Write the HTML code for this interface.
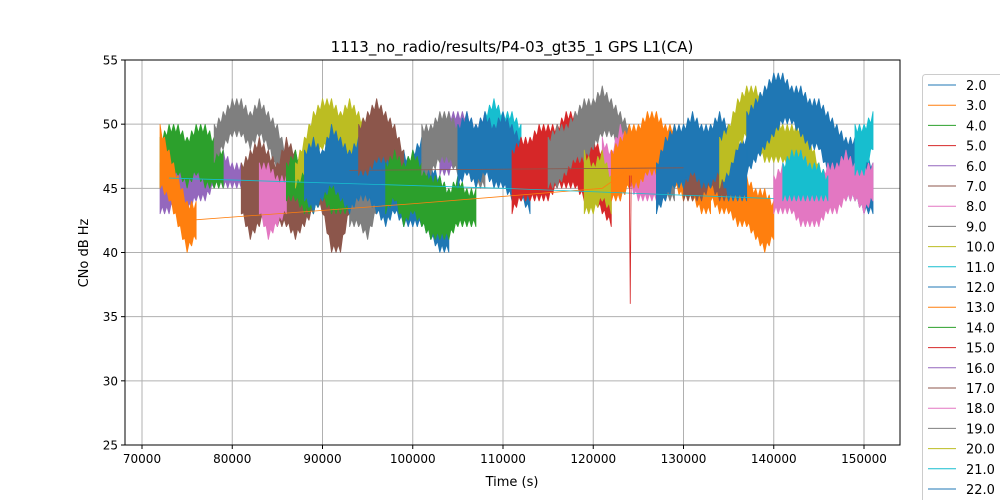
<!DOCTYPE html>
<html><head><meta charset="utf-8"><style>
html,body{margin:0;background:#fff;overflow:hidden;width:1000px;height:500px;}
svg{display:block;overflow:hidden;font-family:"DejaVu Sans","Liberation Sans",sans-serif;}
</style></head><body>
<svg id="c" width="1000" height="500" xmlns="http://www.w3.org/2000/svg"></svg>
<script>
// ---- data (time in thousands of seconds, CNo in dB Hz) ----
const xTicks=[70000,80000,90000,100000,110000,120000,130000,140000,150000];
const yTicks=[25,30,35,40,45,50,55];
const legendLabels=["2.0","3.0","4.0","5.0","6.0","7.0","8.0","9.0","10.0","11.0","12.0","13.0","14.0","15.0","16.0","17.0","18.0","19.0","20.0","21.0","22.0"];
const colors=["#1f77b4","#ff7f0e","#2ca02c","#d62728","#9467bd","#8c564b","#e377c2","#7f7f7f","#bcbd22","#17becf"];
// band segments: color index, start time, hi values, lo values (1 sample per 1000 s)
const segColor=[4,2,1,7,5,6,5,2,8,7,0,5,0,2,4,7,9,0,3,7,6,8,1,1,5,0,8,0,6,9,9];
const segStart=[72,72,72,78,81,83,89,86,87,93,88,94,100,97,103,101,108,105,111,115,121,119,122,133,130,127,134,137,140,141,149];
const segHi=[
[47,48,49,48,47,48,47,48,47,47,47,46],
[49,50,50,49,50,50,49,48],
[50,48,46,44,44],
[50,51,52,52,51,52,51,50,48,47],
[47,48,49,48,47,49,48,47,46],
[47,47,46,46],
[48,47,46,46,46],
[47,48,47,48,48,47,47,46],
[47,49,51,52,52,51,52,51,50,50,49,48,47,46,45],
[46,47,45,47,46],
[48,49,48,50,49,48,49,48,49,48,49,48,47],
[50,51,52,51,50,48],
[48,49,47,46,45],
[47,48,47,48,47,46,46,45,46,45,45],
[50,51,51,51,50,51,50,49],
[50,50,51,51,50,50,49,49],
[51,52,51,51,50],
[50,51,50,51,50,51,50,49,48],
[48,49,49,50,50,50,51,51,50,49,48,47],
[49,50,50,51,52,52,53,52,51,50,49,48,47,47,47],
[49,48,50,49,48,49,49,48],
[48,47,48,46],
[48,49,50,50,51,51,50,50,49,48,48,47],
[48,47,48,47,46,45,45,44],
[47,48,47,48,47,46],
[47,49,50,50,51,50,50,51,50,49,49],
[49,50,52,53,53,52,51,50,50,50,49,47,46],
[51,52,53,54,54,53,53,52,52,51,50,49,49,48,47],
[46,47,47,48,47,46,47,47,48,47,47,47],
[47,48,48,47,47,46],
[50,50,51]];
const segLo=[
[43,43,44,43,44,44,45,45,45,45,45,45],
[45,45,46,45,46,45,45,45],
[45,44,42,40,41],
[47,48,49,49,48,49,48,46,44,42],
[43,41,42,43,42,42,41,42,43],
[43,41,42,43],
[44,43,40,40,43],
[44,44,43,43,44,43,43,43],
[45,46,47,48,48,48,47,47,46,45,45,44,43,43,43],
[42,42,41,43,43],
[44,43,44,45,44,43,44,44,43,42,43,42,42],
[46,46,47,47,46,44],
[42,42,41,40,40],
[43,44,42,43,42,41,41,41,42,42,42],
[46,46,47,47,46,47,46,45],
[46,46,47,47,46,46,45,45],
[46,47,46,45,45],
[45,46,45,46,45,45,44,44,43],
[43,44,44,44,44,45,45,45,44,44,43,42],
[45,45,46,47,47,48,49,49,48,47,46,45,45,44,44],
[44,44,44,45,44,44,44,44],
[43,43,44,43],
[44,44,45,45,46,46,45,45,44,44,43,43],
[44,43,43,42,42,41,40,41],
[44,44,44,45,44,44],
[43,44,45,45,46,45,45,46,44,44,44],
[45,46,48,49,48,47,47,47,46,46,45,44,43],
[46,47,48,49,50,50,49,48,48,46,45,44,44,43,43],
[43,43,43,42,42,42,43,43,44,44,43,44],
[44,44,44,44,44,44],
[46,46,48]];
// thin connecting lines
const lineColor=[1,9,5,3];
const lineT=[[75,100,121,124],[73,110,140],[93,130],[124,124.1,124.2]];
const lineV=[[42.5,43.8,45,46.5],[45.8,45.0,44.2],[46.4,46.6],[46,36,46]];

// ---- axes ----
const L=125,R=900,T=60,B=445;
const X=t=>142+(t-70000)*722/80000;
const Y=v=>T+(55-v)*(B-T)/30;
const svg=document.getElementById('c');
const NS="http://www.w3.org/2000/svg";
function mk(tag,attrs,parent){const e=document.createElementNS(NS,tag);for(const k in attrs)e.setAttribute(k,attrs[k]);(parent||svg).appendChild(e);return e;}
mk('rect',{x:0,y:0,width:1000,height:500,fill:'#fff'});
const grid=mk('g',{});


xTicks.forEach(t=>{mk('line',{x1:X(t),x2:X(t),y1:T,y2:B,stroke:'#b0b0b0','stroke-width':1},grid);});
yTicks.forEach(v=>{mk('line',{x1:L,x2:R,y1:Y(v),y2:Y(v),stroke:'#b0b0b0','stroke-width':1},grid);});
const plot=mk('g',{});


segColor.forEach((ci,i)=>{
  const hi=segHi[i],lo=segLo[i],s=segStart[i];
  let top=[],bot=[];
  hi.forEach((v,j)=>{
    const t=(s+j)*1000, nv=j+1<hi.length?hi[j+1]:v, nl=j+1<lo.length?lo[j+1]:lo[j];
    const last=j===hi.length-1;
    const steps=last?1:4;
    for(let k=0;k<steps;k++){
      const f=k/4, tt=t+k*250;
      const hv=v+(nv-v)*f-(k%2?0.7:0);
      const lv=lo[j]+(nl-lo[j])*f+(k%2?0.6:0);
      top.push(X(tt)+','+Y(hv));
      bot.push(X(tt)+','+Y(lv));
    }
  });
  const pts=top.concat(bot.reverse());
  const p=mk('polygon',{points:pts.join(' '),fill:colors[ci],stroke:colors[ci],'stroke-width':0.8,'stroke-linejoin':'bevel'},plot);
  
  
});
lineColor.forEach((ci,i)=>{
  const pts=lineT[i].map((t,j)=>X(t*1000)+','+Y(lineV[i][j])).join(' ');
  const p=mk('polyline',{points:pts,fill:'none',stroke:colors[ci],'stroke-width':0.8},plot);
  
  
});
const frame=mk('rect',{x:L,y:T,width:R-L,height:B-T,fill:'none',stroke:'#000','stroke-width':1});


xTicks.forEach(t=>{
  mk('line',{x1:X(t),x2:X(t),y1:B,y2:B+4,stroke:'#000'});
  const e=mk('text',{x:X(t),y:B+18,'text-anchor':'middle','font-size':12});
  e.textContent=t;
  
  
});
yTicks.forEach(v=>{
  mk('line',{x1:L-4,x2:L,y1:Y(v),y2:Y(v),stroke:'#000'});
  const e=mk('text',{x:L-7,y:Y(v)+4.5,'text-anchor':'end','font-size':12});
  e.textContent=v;
  
  
});
const title=mk('text',{x:512,y:52,'text-anchor':'middle','font-size':15});
title.textContent='1113_no_radio/results/P4-03_gt35_1 GPS L1(CA)';


const xt=mk('text',{x:512,y:486,'text-anchor':'middle','font-size':13});
xt.textContent='Time (s)';


const yt=mk('text',{x:88,y:253,'text-anchor':'middle','font-size':13,transform:'rotate(-90 88 253)'});
yt.textContent='CNo dB Hz';


const leg=mk('g',{});


mk('rect',{x:922.5,y:74.5,width:90,height:430,rx:3,fill:'#fff',stroke:'#ccc'},leg);
legendLabels.forEach((lab,i)=>{
  const y=85+i*20.2;
  const g=mk('g',{},leg);
  
  
  mk('line',{x1:928,x2:956,y1:y,y2:y,stroke:colors[i%10],'stroke-width':1},g);
  const e=mk('text',{x:966,y:y+5,'font-size':13},g);
  e.textContent=lab;
});
</script>
</body></html>
